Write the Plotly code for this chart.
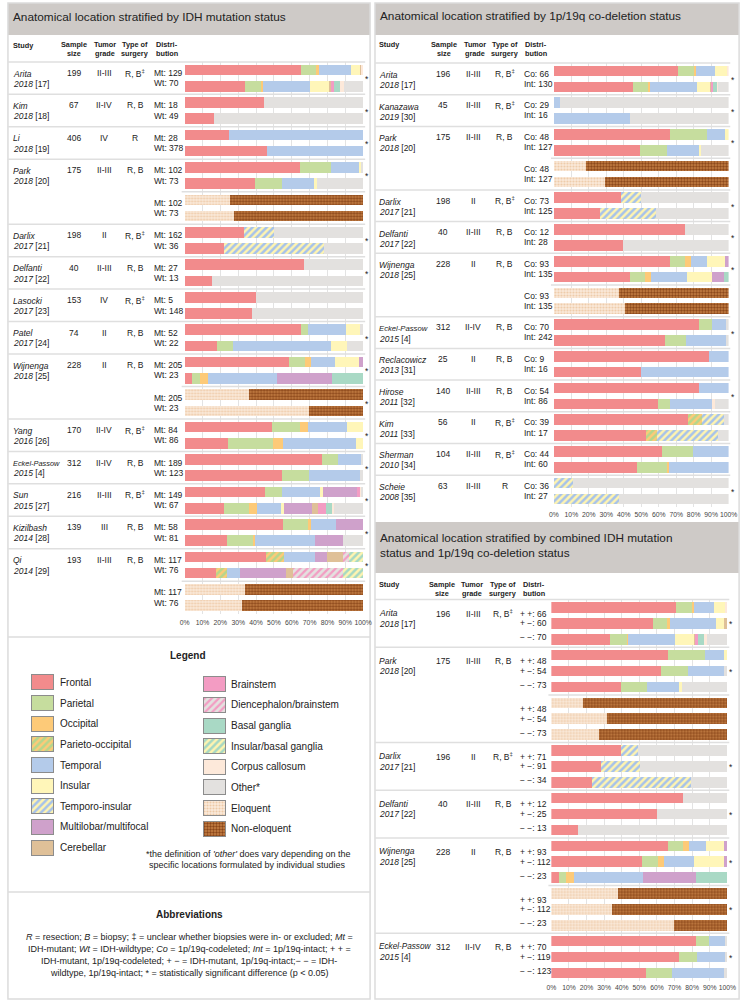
import plotly.graph_objects as go

W, H = 753, 1002
FONT = "Liberation Sans, Arial, Helvetica, sans-serif"
TXT = "#222222"

# ---------------- categories & styles ----------------
CATEGORIES = ["Frontal", "Parietal", "Occipital", "Parieto-occipital", "Temporal", "Insular",
              "Temporo-insular", "Multilobar/multifocal", "Cerebellar", "Brainstem",
              "Diencephalon/brainstem", "Basal ganglia", "Insular/basal ganglia",
              "Corpus callosum", "Other*", "Eloquent", "Non-eloquent"]
KEYS = ["FR", "PA", "OC", "PO", "TE", "IN", "TI", "MU", "CE", "BS", "DB", "BG", "IB", "CC", "OT", "EL", "NE"]

STYLE = {
    "FR": dict(color="#F28B8C"),
    "PA": dict(color="#C6DD9E"),
    "OC": dict(color="#FDCA78"),
    "PO": dict(color="#FDCA78", shape="/", fg="#B5D68C", size=5, solidity=0.5),
    "TE": dict(color="#B4CBEA"),
    "IN": dict(color="#FFF6B9"),
    "TI": dict(color="#FFF4B0", shape="/", fg="#A6C2EA", size=5, solidity=0.5),
    "MU": dict(color="#CFA1CB"),
    "CE": dict(color="#DFC098"),
    "BS": dict(color="#F39CC3"),
    "DB": dict(color="#E4E1DF", shape="/", fg="#F39CC3", size=5, solidity=0.45),
    "BG": dict(color="#A9D9C5"),
    "IB": dict(color="#FFF4B0", shape="/", fg="#A6D8C3", size=5, solidity=0.5),
    "CC": dict(color="#FDE9DA"),
    "OT": dict(color="#E3E1DF"),
    "EL": dict(color="#FBEBDC", shape=".", fg="#EDC9A6", size=3, solidity=0.4),
    "NE": dict(color="#C98447", shape=".", fg="#8A4519", size=3, solidity=0.5),
}

TICK_VALUES = [0, 10, 20, 30, 40, 50, 60, 70, 80, 90, 100]
TICK_LABELS = ["0%", "10%", "20%", "30%", "40%", "50%", "60%", "70%", "80%", "90%", "100%"]

# ---------------- panel 1: IDH ----------------
IDH_STUDY = ["Arita", "Kim", "Li", "Park", "Darlix", "Delfanti", "Lasocki", "Patel", "Wijnenga",
             "Yang", "Eckel-Passow", "Sun", "Kizilbash", "Qi"]
IDH_YEAR = ["2018", "2018", "2018", "2018", "2017", "2017", "2017", "2017", "2018", "2016", "2015", "2015", "2014", "2014"]
IDH_REF = ["[17]", "[18]", "[19]", "[20]", "[21]", "[22]", "[23]", "[24]", "[25]", "[26]", "[4]", "[27]", "[28]", "[29]"]
IDH_N = ["199", "67", "406", "175", "198", "40", "153", "74", "228", "170", "312", "216", "139", "193"]
IDH_GRADE = ["II-III", "II-IV", "IV", "II-III", "II", "II-III", "IV", "II", "II", "II-IV", "II-IV", "II-III", "III", "II-III"]
IDH_SURGERY = ["R, B‡", "R, B", "R", "R, B", "R, B‡", "R, B", "R, B‡", "R, B", "R, B", "R, B‡", "R, B", "R, B‡", "R, B", "R, B"]
IDH_BARS = [
    (0, 0, "Mt: 129", {"FR": 65, "PA": 8.5, "OC": 1.5, "TE": 18, "IN": 5, "CE": 1, "CC": 1}),
    (0, 0, "Wt: 70", {"FR": 34, "PA": 9, "OC": 1, "TE": 26, "IN": 11, "CE": 1, "BS": 1.5, "BG": 3.5, "CC": 2, "OT": 11}),
    (1, 0, "Mt: 18", {"FR": 44.4, "OT": 55.6}),
    (1, 0, "Wt: 49", {"FR": 16.3, "OT": 83.7}),
    (2, 0, "Mt: 28", {"FR": 25, "TE": 75}),
    (2, 0, "Wt: 378", {"FR": 46.3, "TE": 53.7}),
    (3, 0, "Mt: 102", {"FR": 64.8, "PA": 17.4, "TE": 15.6, "IN": 1.2, "OT": 1}),
    (3, 0, "Wt: 73", {"FR": 39.6, "PA": 15.2, "TE": 17.4, "IN": 1.8, "OT": 26}),
    (3, 1, "Mt: 102", {"EL": 25.5, "NE": 74.5}),
    (3, 1, "Wt: 73", {"EL": 27.7, "NE": 72.3}),
    (4, 0, "Mt: 162", {"FR": 33.3, "TI": 16.7, "OT": 50}),
    (4, 0, "Wt: 36", {"FR": 22.2, "TI": 55.6, "OT": 22.2}),
    (5, 0, "Mt: 27", {"FR": 66.7, "OT": 33.3}),
    (5, 0, "Wt: 13", {"FR": 15.4, "OT": 84.6}),
    (6, 0, "Mt: 5", {"FR": 40, "OT": 60}),
    (6, 0, "Wt: 148", {"FR": 37.8, "OT": 62.2}),
    (7, 0, "Mt: 52", {"FR": 65.4, "PA": 3.8, "TE": 21.2, "IN": 7.7, "OT": 1.9}),
    (7, 0, "Wt: 22", {"FR": 18.2, "PA": 9.1, "TE": 54.5, "IN": 9.1, "OT": 9.1}),
    (8, 0, "Mt: 205", {"FR": 58.2, "PA": 9, "OC": 3.5, "TE": 13.7, "IN": 13.4, "MU": 2.2}),
    (8, 0, "Wt: 23", {"FR": 4.3, "PA": 4.3, "OC": 4.3, "TE": 39.1, "MU": 30.4, "BG": 17.4}),
    (8, 1, "Mt: 205", {"EL": 36.3, "NE": 63.7}),
    (8, 1, "Wt: 23", {"EL": 69.6, "NE": 30.4}),
    (9, 0, "Mt: 84", {"FR": 48.7, "PA": 16.1, "OC": 4.1, "TE": 21.9, "IN": 9.2}),
    (9, 0, "Wt: 86", {"FR": 24.5, "PA": 25.1, "OC": 5.5, "TE": 40.7, "IN": 4.2}),
    (10, 0, "Mt: 189", {"FR": 77.1, "PA": 8.8, "TE": 12.8, "OT": 1.3}),
    (10, 0, "Wt: 123", {"FR": 54.8, "PA": 14.6, "TE": 28.8, "OT": 1.8}),
    (11, 0, "Mt: 149", {"FR": 45.1, "PA": 9.7, "TE": 21, "IN": 1.7, "MU": 19.2, "BS": 1.3, "CC": 1, "OT": 1}),
    (11, 0, "Wt: 67", {"FR": 22.2, "PA": 13.7, "OC": 4.6, "TE": 13.3, "IN": 1.9, "MU": 15.9, "CE": 3.1, "BS": 4.6, "BG": 3.3, "CC": 0.9, "OT": 16.5}),
    (12, 0, "Mt: 58", {"FR": 55.2, "PA": 13.8, "OC": 1.7, "TE": 13.8, "MU": 15.5}),
    (12, 0, "Wt: 81", {"FR": 23.5, "PA": 14.8, "OC": 1.2, "TE": 33.3, "MU": 16, "OT": 11.2}),
    (13, 0, "Mt: 117", {"FR": 45.6, "PO": 9.9, "TE": 17.6, "MU": 6.8, "CE": 8.6, "DB": 3.6, "IB": 7.9}),
    (13, 0, "Wt: 76", {"FR": 17.6, "PO": 6.4, "TE": 6.8, "MU": 25.8, "CE": 4, "DB": 27.9, "IB": 11.5}),
    (13, 1, "Mt: 117", {"EL": 33.7, "NE": 66.3}),
    (13, 1, "Wt: 76", {"EL": 31.9, "NE": 68.1}),
]
IDH_SIG = [(0, 0), (1, 0), (2, 0), (3, 0), (4, 0), (5, 0), (7, 0), (8, 0), (8, 1), (9, 0), (10, 0), (11, 0), (12, 0), (13, 0)]

# ---------------- panel 2: 1p/19q ----------------
COD_STUDY = ["Arita", "Kanazawa", "Park", "Darlix", "Delfanti", "Wijnenga", "Eckel-Passow",
             "Reclacowicz", "Hirose", "Kim", "Sherman", "Scheie"]
COD_YEAR = ["2018", "2019", "2018", "2017", "2017", "2018", "2015", "2013", "2011", "2011", "2010", "2008"]
COD_REF = ["[17]", "[30]", "[20]", "[21]", "[22]", "[25]", "[4]", "[31]", "[32]", "[33]", "[34]", "[35]"]
COD_N = ["196", "45", "175", "198", "40", "228", "312", "25", "140", "56", "104", "63"]
COD_GRADE = ["II-III", "II-III", "II-III", "II", "II-III", "II", "II-IV", "II", "II-III", "II", "II-III", "II-III"]
COD_SURGERY = ["R, B‡", "R, B‡", "R, B", "R, B‡", "R, B", "R, B", "R, B", "R, B", "R, B", "R, B‡", "R, B‡", "R"]
COD_BARS = [
    (0, 0, "Co: 66", {"FR": 71.2, "PA": 9.1, "OC": 1.2, "TE": 11, "IN": 6.8, "CC": 0.7}),
    (0, 0, "Int: 130", {"FR": 45.3, "PA": 8.4, "OC": 1.5, "TE": 26.6, "IN": 7.5, "CE": 0.8, "BS": 0.8, "BG": 2.2, "CC": 0.7, "OT": 6.2}),
    (1, 0, "Co: 29", {"TE": 3.4, "OT": 96.6}),
    (1, 0, "Int: 16", {"TE": 43.8, "OT": 56.2}),
    (2, 0, "Co: 48", {"FR": 66.7, "PA": 20.8, "TE": 10.4, "IN": 2.1}),
    (2, 0, "Int: 127", {"FR": 49.4, "PA": 15.2, "TE": 18.7, "IN": 1, "OT": 15.7}),
    (2, 1, "Co: 48", {"EL": 18.2, "NE": 81.8}),
    (2, 1, "Int: 127", {"EL": 29, "NE": 71}),
    (3, 0, "Co: 73", {"FR": 38.2, "TI": 11.4, "OT": 50.4}),
    (3, 0, "Int: 125", {"FR": 26.6, "TI": 31.8, "OT": 41.6}),
    (4, 0, "Co: 12", {"FR": 75, "OT": 25}),
    (4, 0, "Int: 28", {"FR": 39.3, "OT": 60.7}),
    (5, 0, "Co: 93", {"FR": 66.3, "PA": 9, "OC": 3.2, "TE": 9.3, "IN": 10.3, "MU": 1.9}),
    (5, 0, "Int: 135", {"FR": 43.4, "PA": 8.5, "OC": 3.7, "TE": 20.6, "IN": 14.1, "MU": 6.9, "BG": 2.8}),
    (5, 1, "Co: 93", {"EL": 37.5, "NE": 62.5}),
    (5, 1, "Int: 135", {"EL": 40.6, "NE": 59.4}),
    (6, 0, "Co: 70", {"FR": 83.1, "PA": 7.2, "TE": 8.4, "OT": 1.3}),
    (6, 0, "Int: 242", {"FR": 63.7, "PA": 12.1, "TE": 22.9, "OT": 1.3}),
    (7, 0, "Co: 9", {"FR": 88.9, "TE": 11.1}),
    (7, 0, "Int: 16", {"FR": 50, "TE": 50}),
    (8, 0, "Co: 54", {"FR": 83.3, "TE": 16.7}),
    (8, 0, "Int: 86", {"FR": 59.4, "PA": 7.1, "TE": 24.1, "CC": 1.5, "OT": 7.9}),
    (9, 0, "Co: 39", {"FR": 76.9, "PO": 7.7, "TI": 12.8, "OT": 2.6}),
    (9, 0, "Int: 17", {"FR": 52.9, "PO": 5.9, "TI": 35.3, "OT": 5.9}),
    (10, 0, "Co: 44", {"FR": 61.8, "PA": 18, "TE": 20.2}),
    (10, 0, "Int: 60", {"FR": 47.6, "PA": 17.4, "OC": 1, "TE": 34}),
    (11, 0, "Co: 36", {"TI": 11.1, "OT": 88.9}),
    (11, 0, "Int: 27", {"TI": 37, "OT": 63}),
]
COD_SIG = [(0, 0), (1, 0), (2, 0), (3, 0), (4, 0), (5, 0), (6, 0), (8, 0), (11, 0)]

# ---------------- panel 3: combined ----------------
CMB_STUDY = ["Arita", "Park", "Darlix", "Delfanti", "Wijnenga", "Eckel-Passow"]
CMB_YEAR = ["2018", "2018", "2017", "2017", "2018", "2015"]
CMB_REF = ["[17]", "[20]", "[21]", "[22]", "[25]", "[4]"]
CMB_N = ["196", "175", "196", "40", "228", "312"]
CMB_GRADE = ["II-III", "II-III", "II", "II-III", "II", "II-IV"]
CMB_SURGERY = ["R, B‡", "R, B", "R, B‡", "R, B", "R, B", "R, B"]
CMB_BARS = [
    (0, 0, "+ +: 66", {"FR": 70.6, "PA": 9.3, "OC": 1.3, "TE": 11.2, "IN": 6.1, "CC": 1.5}),
    (0, 0, "+ −: 60", {"FR": 57.6, "PA": 8.4, "OC": 1.5, "TE": 25.8, "IN": 4.8, "CE": 1.9}),
    (0, 0, "− −: 70", {"FR": 33.5, "PA": 9.3, "OC": 0.9, "TE": 26.4, "IN": 10.8, "CE": 1, "BS": 1.4, "BG": 3.4, "CC": 1.5, "OT": 11.8}),
    (1, 0, "+ +: 48", {"FR": 66.5, "PA": 20.9, "TE": 10.6, "IN": 2}),
    (1, 0, "+ −: 54", {"FR": 62.6, "PA": 14.9, "TE": 20.5, "OT": 2}),
    (1, 0, "− −: 73", {"FR": 39.4, "PA": 15.1, "TE": 18, "IN": 1.5, "OT": 26}),
    (1, 1, "+ +: 48", {"EL": 18.2, "NE": 81.8}),
    (1, 1, "+ −: 54", {"EL": 31.6, "NE": 68.4}),
    (1, 1, "− −: 73", {"EL": 27.3, "NE": 72.7}),
    (2, 0, "+ +: 71", {"FR": 39.4, "TI": 9.9, "OT": 50.7}),
    (2, 0, "+ −: 91", {"FR": 28.3, "TI": 22.3, "OT": 49.4}),
    (2, 0, "− −: 34", {"FR": 23, "TI": 56.4, "OT": 20.6}),
    (3, 0, "+ +: 12", {"FR": 75, "OT": 25}),
    (3, 0, "+ −: 25", {"FR": 60, "OT": 40}),
    (3, 0, "− −: 13", {"FR": 15.4, "OT": 84.6}),
    (4, 0, "+ +: 93", {"FR": 66.5, "PA": 8.2, "OC": 3.7, "TE": 9.3, "IN": 10.3, "MU": 2}),
    (4, 0, "+ −: 112", {"FR": 51.5, "PA": 8.9, "OC": 3.7, "TE": 17.1, "IN": 16.9, "MU": 1.9}),
    (4, 0, "− −: 23", {"FR": 4.3, "PA": 4.3, "OC": 4.3, "TE": 39.1, "MU": 30.4, "BG": 17.4}),
    (4, 1, "+ +: 93", {"EL": 37.7, "NE": 62.3}),
    (4, 1, "+ −: 112", {"EL": 34.4, "NE": 65.6}),
    (4, 1, "− −: 23", {"EL": 69.6, "NE": 30.4}),
    (5, 0, "+ +: 70", {"FR": 82.3, "PA": 7.5, "TE": 8.7, "OT": 1.5}),
    (5, 0, "+ −: 119", {"FR": 72.5, "PA": 10.2, "TE": 16.2, "OT": 1.1}),
    (5, 0, "− −: 123", {"FR": 53.9, "PA": 14.9, "TE": 29.3, "OT": 1.9}),
]
CMB_SIG = [(0, 0), (1, 0), (2, 0), (3, 0), (4, 0), (4, 1), (5, 0)]

# ---------------- layout geometry (pixels) ----------------
GEOM = {
    "idh": dict(row0=70.0, pitch=16.23, x0=183.0, x1=365.0, left=3.0, sep_right=367.0, star_x=368.5,
                name_x=7.0, n_x=70.0, grade_x=101.3, surg_x=132.5, lab_x=150.5,
                name_off=(3.5, 13.8), info_off=3.0, lab_off=(3.0, 13.3), eck_size=7.4,
                head_y=(44.0, 54.0), study_y=45.5, head_x=(70.0, 101.5, 132.5, 165.0), standoff=3),
    "cod": dict(row0=71.0, pitch=15.85, x0=559.3, x1=737.3, left=377.0, sep_right=739.0, star_x=742.0,
                name_x=380.0, n_x=446.0, grade_x=477.0, surg_x=509.0, lab_x=528.0,
                name_off=(4.0, 14.0), info_off=2.7, lab_off=(2.7, 12.8), eck_size=7.7,
                head_y=(44.5, 54.0), study_y=44.5, head_x=(447.0, 478.7, 509.3, 541.3), standoff=2),
    "cmb": dict(row0=607.5, pitch=15.89, x0=556.7, x1=736.0, left=377.0, sep_right=738.0, star_x=740.0,
                name_x=380.0, n_x=446.0, grade_x=477.0, surg_x=507.5, lab_x=524.0,
                name_off=(5.5, 16.0), info_off=6.0, lab_off=(6.0, 15.9, 29.8), eck_size=8.2,
                head_y=(584.0, 593.3), study_y=584.0, head_x=(445.3, 476.2, 507.5, 539.0), standoff=1),
}
BAR_H = 10.6


def px(x):
    return x / W


def py(y):
    return 1 - y / H


traces, shapes, anns = [], [], []
layout_axes = {}


def text(x, y, s, size=8.5, anchor="left", color=TXT, yanchor="middle"):
    anns.append(dict(x=px(x), y=py(y), xref="paper", yref="paper", text=s, showarrow=False,
                     xanchor=anchor, yanchor=yanchor, borderpad=0,
                     font=dict(size=size, color=color, family=FONT)))


def hline(x0, x1, y, color="#DFDFDF", width=1.5, layer="above"):
    shapes.append(dict(type="line", xref="paper", yref="paper", x0=px(x0), x1=px(x1),
                       y0=py(y), y1=py(y), line=dict(color=color, width=width), layer=layer))


def rect(x0, y0, x1, y1, fill="rgba(0,0,0,0)", line_color=None, layer="below"):
    shapes.append(dict(type="rect", xref="paper", yref="paper", x0=px(x0), x1=px(x1),
                       y0=py(y1), y1=py(y0), fillcolor=fill, layer=layer,
                       line=dict(color=line_color or "rgba(0,0,0,0)", width=1.5 if line_color else 0)))


def marker(k, outline=None):
    s = STYLE[k]
    m = dict(color=s["color"], line=dict(width=1 if outline else 0, color=outline or s["color"]))
    if "shape" in s:
        m["pattern"] = dict(shape=s["shape"], fgcolor=s["fg"], bgcolor=s["color"], size=s["size"],
                            solidity=s["solidity"], fillmode="overlay", fgopacity=1)
    return m


def surg(s):
    return s.replace("‡", "<sup>‡</sup>")


def build_panel(key, idx, study, year, ref, nn, grade, surgery, bars, sig):
    g = GEOM[key]
    n = len(bars)
    p, r0 = g["pitch"], g["row0"]
    cy = lambda i: r0 + i * p
    top, bot = r0 - p / 2, r0 + (n - 0.5) * p
    xn, yn = f"x{idx}", f"y{idx}"
    layout_axes[f"xaxis{idx}"] = dict(
        domain=[px(g["x0"]), px(g["x1"])], range=[0, 100], anchor=yn, tickmode="array",
        tickvals=TICK_VALUES, ticktext=TICK_LABELS, tickangle=0, showgrid=True, gridcolor="#E3E3E3",
        gridwidth=1, zeroline=False, showline=False, ticks="", ticklabelstandoff=g["standoff"],
        tickfont=dict(size=6.8, color="#444444", family=FONT), fixedrange=True)
    layout_axes[f"yaxis{idx}"] = dict(domain=[py(bot), py(top)], range=[n - 0.5, -0.5], anchor=xn,
                                      visible=False, fixedrange=True)
    ys = list(range(n))
    for k, cat in zip(KEYS, CATEGORIES):
        vals = [b[3].get(k, 0) for b in bars]
        if not any(vals):
            continue
        traces.append(go.Bar(x=vals, y=ys, orientation="h", width=BAR_H / p, marker=marker(k),
                             xaxis=xn, yaxis=yn, name=cat, showlegend=False, hoverinfo="skip"))
    # header
    hx = g["head_x"]
    hy0, hy1 = g["head_y"]
    hs = 7.3
    text(g["name_x"], g["study_y"], "<b>Study</b>", hs)
    for x, (a, b) in zip(hx, [("Sample", "size"), ("Tumor", "grade"), ("Type of", "surgery"), ("Distri-", "bution")]):
        text(x, hy0, f"<b>{a}</b>", hs, "center")
        text(x, hy1, f"<b>{b}</b>", hs, "center")
    hline(g["left"], g["sep_right"], top)
    # groups & blocks
    blocks = {}
    for i, b in enumerate(bars):
        blocks.setdefault((b[0], b[1]), []).append(i)
    groups = {}
    for i, b in enumerate(bars):
        groups.setdefault(b[0], []).append(i)
    gkeys = sorted(groups)
    for gi in gkeys:
        rows = groups[gi]
        y0 = cy(rows[0])
        nm = study[gi]
        size = g["eck_size"] if nm == "Eckel-Passow" else 8.5
        text(g["name_x"], y0 + g["name_off"][0], f"<i>{nm}</i>", size)
        text(g["name_x"], y0 + g["name_off"][1], f"<i>{year[gi]}</i> {ref[gi]}", 8.5)
        text(g["n_x"], y0 + g["info_off"], nn[gi], 8.5, "center")
        text(g["grade_x"], y0 + g["info_off"], grade[gi], 8.5, "center")
        text(g["surg_x"], y0 + g["info_off"], surg(surgery[gi]), 8.5, "center")
        if gi != gkeys[-1]:
            nxt = groups[gkeys[gkeys.index(gi) + 1]][0]
            hline(g["left"], g["sep_right"], (cy(rows[-1]) + cy(nxt)) / 2)
    for (gi, bi), rows in blocks.items():
        y0 = cy(rows[0])
        for j, r in enumerate(rows):
            text(g["lab_x"], y0 + g["lab_off"][j], bars[r][2], 8.5)
        if bi > 0:
            prev = blocks[(gi, bi - 1)][-1]
            hline(g["x0"] - 3, g["sep_right"], (cy(prev) + y0) / 2)
        if (gi, bi) in sig:
            text(g["star_x"], (cy(rows[0]) + cy(rows[-1])) / 2 + 1, "*", 8.5, "center")


build_panel("idh", 1, IDH_STUDY, IDH_YEAR, IDH_REF, IDH_N, IDH_GRADE, IDH_SURGERY, IDH_BARS, IDH_SIG)
build_panel("cod", 2, COD_STUDY, COD_YEAR, COD_REF, COD_N, COD_GRADE, COD_SURGERY, COD_BARS, COD_SIG)
build_panel("cmb", 3, CMB_STUDY, CMB_YEAR, CMB_REF, CMB_N, CMB_GRADE, CMB_SURGERY, CMB_BARS, CMB_SIG)

# ---------------- frames and title bands ----------------
BAND = "#CECAC7"
FRAME = "#DCDCDC"
rect(3, 3, 372, 35, fill=BAND)
rect(377, 3, 748, 35, fill=BAND)
rect(377, 522, 748, 573, fill=BAND)
rect(3, 3, 372, 999, line_color=FRAME)
rect(377, 3, 748, 999, line_color=FRAME)
hline(3, 372, 637, FRAME, 1.5, "below")
hline(3, 372, 892, FRAME, 1.5, "below")

text(7, 17, "Anatomical location stratified by IDH mutation status", 11.8)
text(381, 16, "Anatomical location stratified by 1p/19q co-deletion status", 11.8)
text(381.5, 538.3, "Anatomical location stratified by combined IDH mutation", 11.8)
text(381.5, 552.7, "status and 1p/19q co-deletion status", 11.8)

# ---------------- legend ----------------
LEG_LEFT = KEYS[:9]
LEG_RIGHT = KEYS[9:]
LEG = dict(left_x=27.0, right_x=202.7, sw_w=22.0, sw_h=15.0, left_y0=682.4, right_y0=684.2,
           pitch=20.65, lab_left=55.0, lab_right=229.0)
layout_axes["xaxis4"] = dict(domain=[0, 1], range=[0, W], anchor="y4", visible=False, fixedrange=True)
layout_axes["yaxis4"] = dict(domain=[0, 1], range=[H, 0], anchor="x4", visible=False, fixedrange=True)
for col, keys in (("left", LEG_LEFT), ("right", LEG_RIGHT)):
    for i, k in enumerate(keys):
        yc = LEG[f"{col}_y0"] + i * LEG["pitch"]
        traces.append(go.Bar(x=[LEG["sw_w"]], base=[LEG[f"{col}_x"]], y=[yc], width=[LEG["sw_h"]],
                             orientation="h", marker=marker(k, outline="#8C8C8C"), xaxis="x4", yaxis="y4",
                             showlegend=False, hoverinfo="skip", name=CATEGORIES[KEYS.index(k)]))
        text(LEG[f"lab_{col}"], yc, CATEGORIES[KEYS.index(k)], 10)
text(186, 655, "<b>Legend</b>", 10, "center")
text(248, 853.5, "*the definition of <i>'other'</i> does vary depending on the", 9, "center")
text(247, 865, "specific locations formulated by individual studies", 9, "center")

# ---------------- abbreviations ----------------
text(188, 914.3, "<b>Abbreviations</b>", 10, "center")
ABBR = [
    "<i>R</i> = resection; <i>B</i> = biopsy; ‡ = unclear whether biopsies were in- or excluded; <i>Mt</i> =",
    "IDH-mutant; <i>Wt</i> = IDH-wildtype; <i>Co</i> = 1p/19q-codeleted; <i>Int</i> = 1p/19q-intact; + + =",
    "IDH-mutant, 1p/19q-codeleted; + − = IDH-mutant, 1p/19q-intact;− − = IDH-",
    "wildtype, 1p/19q-intact; * = statistically significant difference (p < 0.05)",
]
for i, line in enumerate(ABBR):
    text(187.5, 937.3 + i * 11.8, line, 9, "center")

fig = go.Figure(data=traces)
fig.update_layout(width=W, height=H, margin=dict(l=0, r=0, t=0, b=0), paper_bgcolor="white",
                  plot_bgcolor="rgba(0,0,0,0)", barmode="stack", showlegend=False,
                  shapes=shapes, annotations=anns, font=dict(family=FONT, color=TXT),
                  **layout_axes)
fig.write_html("out.html", config={"displayModeBar": False, "staticPlot": True},
               post_script="document.body.style.margin='0';document.body.style.padding='0';")
